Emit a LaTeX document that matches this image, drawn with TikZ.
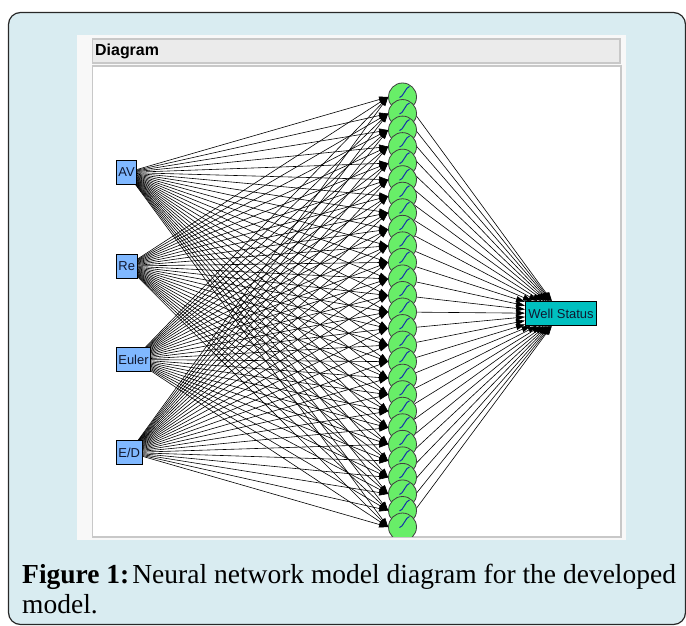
\documentclass[tikz,border=0pt]{standalone}
\usepackage{fontspec}
\setmainfont{Liberation Serif}
\newfontfamily\uifont{Liberation Sans}
\usetikzlibrary{arrows.meta}
\pgfdeclarelayer{bg}
\pgfdeclarelayer{edges}
\pgfsetlayers{bg,edges,main}
\definecolor{framebg}{RGB}{217,236,241}
\definecolor{frameline}{RGB}{40,40,40}
\definecolor{panelbg}{RGB}{248,248,248}
\definecolor{titlebg}{RGB}{235,235,235}
\definecolor{graybd}{RGB}{200,200,200}
\definecolor{inblue}{RGB}{128,184,255}
\definecolor{outteal}{RGB}{0,192,192}
\definecolor{neurongreen}{RGB}{104,238,104}
\definecolor{sigblue}{RGB}{20,50,170}
\definecolor{labeltext}{RGB}{16,24,48}
\begin{document}
\begin{tikzpicture}[x=1bp,y=-1bp,
  inbox/.style={draw=black, line width=0.8bp, fill=inblue, font=\uifont\fontsize{13}{15}\selectfont, text=labeltext, inner xsep=2bp, inner ysep=0bp, minimum height=24bp, anchor=west},
  outbox/.style={inbox, fill=outteal, inner xsep=3bp},
  neuron/.style={circle, draw=black!75, line width=0.8bp, fill=neurongreen, minimum size=28bp, inner sep=0pt},
  edge/.style={draw=black, line width=0.6bp, -{Triangle[length=9bp,width=6bp]}},
  sig/.style={draw=sigblue, line width=1bp},
  captext/.style={anchor=base west, inner sep=0pt, font=\fontsize{27.6}{30}\selectfont}
]
\useasboundingbox (0,0) rectangle (686,626);
\begin{pgfonlayer}{bg}
  \fill[white] (0,0) rectangle (686,626);
  \draw[fill=framebg, draw=frameline, line width=1.2bp, rounded corners=12bp] (8.5,12.5) rectangle (685.5,624.5);
  \fill[panelbg] (77,35) rectangle (626,540);
  \draw[fill=titlebg, draw=graybd, line width=1.5bp] (92.5,39) rectangle (620,63);
  \draw[fill=white, draw=graybd, line width=1.5bp] (92.5,66) rectangle (621,537);
\end{pgfonlayer}
\node[anchor=west, inner sep=0pt, font=\uifont\bfseries\fontsize{16}{18}\selectfont] (title) at (95,51) {Diagram};
% hidden layer
\begin{scope}
  \clip (93.25,66.75) rectangle (620.25,536.25);
  \foreach \k in {1,...,27}{
    \node[neuron] (h\k) at (402.5, {97+(\k-1)*16.54}) {};
    \draw[sig] (h\k.center) ++(-3,0.5) .. controls +(3.5,0) and +(-3.5,0) .. ++(10,-11);
  }
\end{scope}
% inputs and output
\node[inbox] (av) at (116,172.5) {AV};
\node[inbox] (re) at (116,266) {Re};
\node[inbox] (eu) at (116,359.5) {Euler};
\node[inbox] (ed) at (116,452.5) {E/D};
\node[outbox] (out) at (525,313.5) {Well Status};
\begin{pgfonlayer}{edges}
  \foreach \n in {av,re,eu,ed}{
    \foreach \k in {1,...,27}{\draw[edge] (\n) -- (h\k.west);}
  }
  \foreach \k in {1,...,27}{\draw[edge] (h\k) -- (out);}
\end{pgfonlayer}
% caption
\node[captext] (cap1) at (22,583) {\textbf{Figure 1:}\hspace{3bp}Neural network model diagram for the developed};
\node[captext] (cap2) at (22,613) {model.};
\end{tikzpicture}
\end{document}
